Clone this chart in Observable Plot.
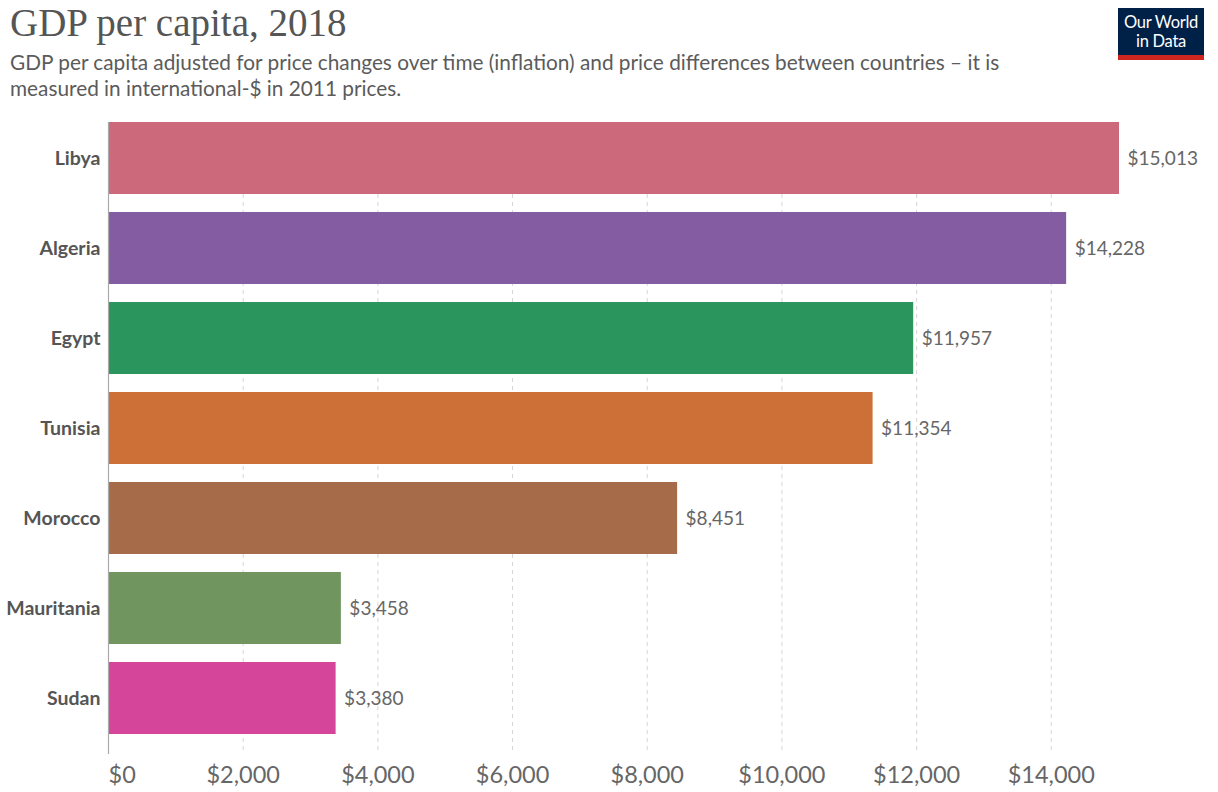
<!DOCTYPE html>
<html>
<head>
<meta charset="utf-8">
<script src="https://cdn.jsdelivr.net/npm/d3@7"></script>
<script src="https://cdn.jsdelivr.net/npm/@observablehq/plot@0.6"></script>
<style>
  body { margin: 0; background: #fff; width: 1218px; height: 792px; position: relative; overflow: hidden; font-family: Lato, "Noto Sans", sans-serif; }
  #title { position: absolute; left: 10px; top: 0px; font-family: "Liberation Serif", "Times New Roman", serif; font-size: 39px; color: #555; }
  #subtitle { position: absolute; left: 10px; top: 49px; font-size: 20.8px; line-height: 26px; color: #5b5b5b; width: 1005px; }
  #logo { position: absolute; left: 1118px; top: 8px; width: 86px; height: 52px; background: #002147; color: #fff; font-size: 16.5px; line-height: 19px; text-align: center; box-sizing: border-box; padding-top: 5px; border-bottom: 5px solid #CE261E; letter-spacing: -0.3px; }
  #chart { position: absolute; left: 0; top: 105px; }
</style>
</head>
<body>
<div id="title">GDP per capita, 2018</div>
<div id="subtitle">GDP per capita adjusted for price changes over time (inflation) and price differences between countries – it is measured in international-$ in 2011 prices.</div>
<div id="logo">Our World<br>in Data</div>
<div id="chart"></div>
<script>
const countries = ["Libya", "Algeria", "Egypt", "Tunisia", "Morocco", "Mauritania", "Sudan"];
const gdp = [15013, 14228, 11957, 11354, 8451, 3458, 3380];
const colors = ["#CC6A7C", "#835CA1", "#2A955C", "#CC7038", "#A66C4A", "#71955E", "#D5469A"];
const ticks = [0, 2000, 4000, 6000, 8000, 10000, 12000, 14000];

const data = countries.map((c, i) => ({country: c, value: gdp[i], color: colors[i]}));
const fmt = d3.format(",");
const money = d => "$" + fmt(d);

const plot = Plot.plot({
  width: 1218,
  height: 687,
  marginLeft: 108,
  marginRight: 99,
  marginTop: 17,
  marginBottom: 38,
  style: {fontFamily: "Lato, 'Noto Sans', sans-serif", background: "transparent"},
  x: {domain: [0, d3.max(gdp)], nice: false, axis: null},
  y: {domain: countries, paddingInner: 0.2, paddingOuter: 0.1, align: 0, axis: null},
  marks: [
    Plot.ruleX(ticks.slice(1), {stroke: "#d6d6d6", strokeDasharray: "4,4", strokeWidth: 1}),
    Plot.barX(data, {y: "country", x: "value", fill: "color"}),
    Plot.ruleX([0], {stroke: "#aaa", strokeWidth: 1.2}),
    Plot.text(data, {y: "country", x: "value", text: d => money(d.value), textAnchor: "start", dx: 8, fontSize: 19, fill: "#666"}),
    Plot.axisY({tickSize: 0, tickPadding: 8, fontSize: 19.5, fontWeight: "bold", color: "#555", label: null}),
    Plot.axisX(ticks.slice(0, 1), {tickSize: 0, tickPadding: 12, fontSize: 23.5, color: "#666", label: null, tickFormat: money, textAnchor: "start"}),
    Plot.axisX(ticks.slice(1), {tickSize: 0, tickPadding: 12, fontSize: 23.5, color: "#666", label: null, tickFormat: money})
  ]
});
document.getElementById("chart").appendChild(plot);
</script>
</body>
</html>
